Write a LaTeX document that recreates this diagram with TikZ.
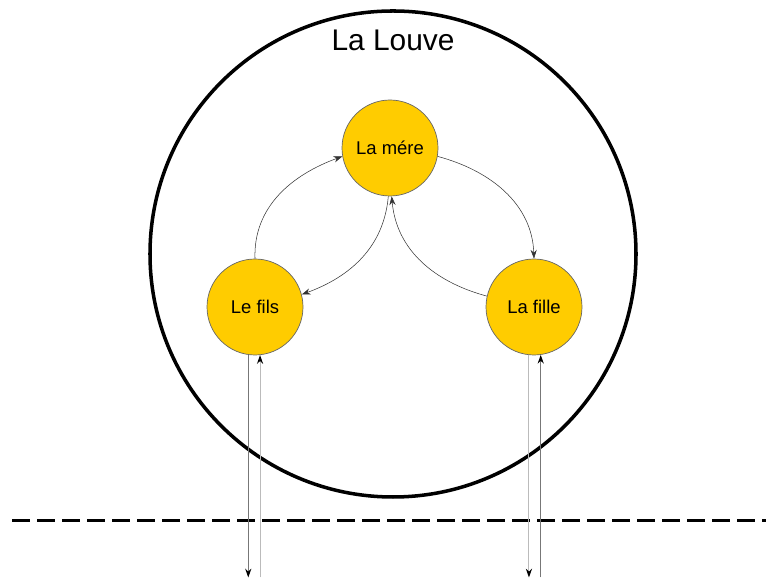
\documentclass[tikz,border=0pt]{standalone}
\usepackage{fontspec}
\setmainfont{Liberation Sans}
\usepackage{xcolor}
\usetikzlibrary{arrows.meta}

\definecolor{louveyellow}{HTML}{FFCC00}
\definecolor{darkline}{HTML}{777777}
\definecolor{lightline}{HTML}{BBBBBB}

\tikzset{
  member/.style={circle, draw=black!60, line width=0.4pt, fill=louveyellow,
    minimum size=1.92cm, inner sep=0pt, font=\fontsize{10.5}{12}\selectfont},
  link/.style={draw=black!80, line width=0.3pt, -{Stealth[length=5pt,width=3.5pt]}},
  outdark/.style={draw=darkline, line width=0.6pt, -{Stealth[length=5pt,width=3.5pt,black]}},
  outlight/.style={draw=lightline, line width=0.6pt, -{Stealth[length=5pt,width=3.5pt,black]}}
}

\begin{document}
\begin{tikzpicture}

    \useasboundingbox (0,0) rectangle (15.32,11.58);

    % Big circle
    \draw[line width=2pt] (7.86,6.5) circle [radius=4.86];
    \node (louve) at (7.86,10.78) {\fontsize{17}{19}\selectfont La Louve};

    % Members
    \node[member] (mere)  at (7.8,8.62)  {La mére};
    \node[member] (fils)  at (5.1,5.44)  {Le fils};
    \node[member] (fille) at (10.68,5.44) {La fille};

    % Links inside
    \draw[link] (fils.north) to[out=92,in=200] (mere.190);
    \draw[link] (mere.-10) to[out=-15,in=92] (fille.north);
    \draw[link] (mere.-92) to[out=-95,in=20] (fils.15);
    \draw[link] (fille.167) to[out=165,in=-85] (mere.-88);

    % Separation line
    \coordinate (sepl) at (0.24,1.16);
    \coordinate (sepr) at (15.32,1.16);
    \draw[line width=1.7pt, dash pattern=on 0.36cm off 0.14cm] (sepl) -- (sepr);

    % Outside
    \coordinate (bottom) at (0,0.03);
    \draw[outdark]  (fils.-98) -- (fils.-98 |- bottom);
    \draw[outlight] (fils.-84 |- bottom) -- (fils.-84);
    \draw[outlight] (fille.-96) -- (fille.-96 |- bottom);
    \draw[outdark]  (fille.-82 |- bottom) -- (fille.-82);

\end{tikzpicture}
\end{document}
